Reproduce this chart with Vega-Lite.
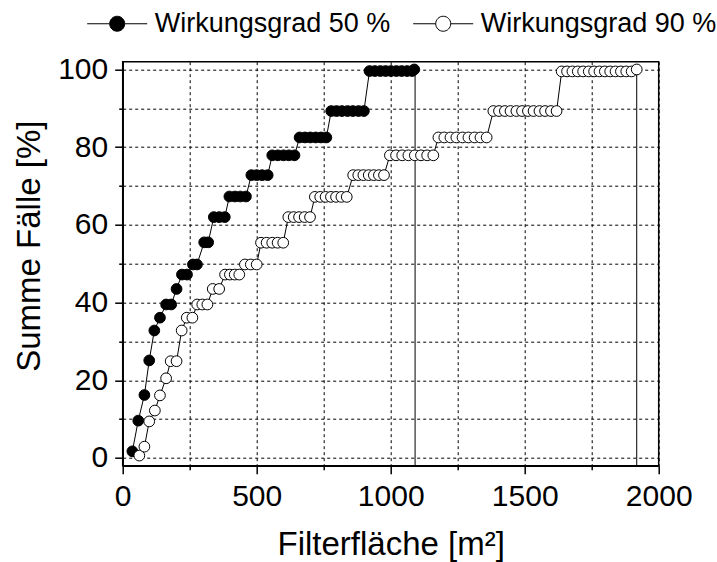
{
  "$schema": "https://vega.github.io/schema/vega-lite/v6.json",
  "width": 536,
  "height": 404,
  "autosize": "none",
  "padding": {"left": 122.7, "top": 61.7, "right": 58.3, "bottom": 96.3},
  "background": "white",
  "datasets": {
    "pts": [
      {"series": "Wirkungsgrad 50 %", "x": 36, "y": 1.7},
      {"series": "Wirkungsgrad 50 %", "x": 58, "y": 9.6},
      {"series": "Wirkungsgrad 50 %", "x": 81, "y": 16.2},
      {"series": "Wirkungsgrad 50 %", "x": 99, "y": 25.1},
      {"series": "Wirkungsgrad 50 %", "x": 118, "y": 32.8},
      {"series": "Wirkungsgrad 50 %", "x": 139, "y": 36.1},
      {"series": "Wirkungsgrad 50 %", "x": 162, "y": 39.5},
      {"series": "Wirkungsgrad 50 %", "x": 181, "y": 39.5},
      {"series": "Wirkungsgrad 50 %", "x": 201, "y": 43.5},
      {"series": "Wirkungsgrad 50 %", "x": 221, "y": 47.2},
      {"series": "Wirkungsgrad 50 %", "x": 240, "y": 47.2},
      {"series": "Wirkungsgrad 50 %", "x": 262, "y": 49.8},
      {"series": "Wirkungsgrad 50 %", "x": 277, "y": 49.8},
      {"series": "Wirkungsgrad 50 %", "x": 304, "y": 55.5},
      {"series": "Wirkungsgrad 50 %", "x": 319, "y": 55.5},
      {"series": "Wirkungsgrad 50 %", "x": 340, "y": 62.0},
      {"series": "Wirkungsgrad 50 %", "x": 360, "y": 62.0},
      {"series": "Wirkungsgrad 50 %", "x": 381, "y": 62.0},
      {"series": "Wirkungsgrad 50 %", "x": 398, "y": 67.3},
      {"series": "Wirkungsgrad 50 %", "x": 419, "y": 67.3},
      {"series": "Wirkungsgrad 50 %", "x": 439, "y": 67.3},
      {"series": "Wirkungsgrad 50 %", "x": 460, "y": 67.3},
      {"series": "Wirkungsgrad 50 %", "x": 480, "y": 72.8},
      {"series": "Wirkungsgrad 50 %", "x": 500, "y": 72.8},
      {"series": "Wirkungsgrad 50 %", "x": 520, "y": 72.8},
      {"series": "Wirkungsgrad 50 %", "x": 541, "y": 72.8},
      {"series": "Wirkungsgrad 50 %", "x": 558, "y": 77.9},
      {"series": "Wirkungsgrad 50 %", "x": 579, "y": 77.9},
      {"series": "Wirkungsgrad 50 %", "x": 600, "y": 77.9},
      {"series": "Wirkungsgrad 50 %", "x": 620, "y": 77.9},
      {"series": "Wirkungsgrad 50 %", "x": 641, "y": 77.9},
      {"series": "Wirkungsgrad 50 %", "x": 660, "y": 82.5},
      {"series": "Wirkungsgrad 50 %", "x": 680, "y": 82.5},
      {"series": "Wirkungsgrad 50 %", "x": 700, "y": 82.5},
      {"series": "Wirkungsgrad 50 %", "x": 720, "y": 82.5},
      {"series": "Wirkungsgrad 50 %", "x": 740, "y": 82.5},
      {"series": "Wirkungsgrad 50 %", "x": 760, "y": 82.5},
      {"series": "Wirkungsgrad 50 %", "x": 778, "y": 89.3},
      {"series": "Wirkungsgrad 50 %", "x": 798, "y": 89.3},
      {"series": "Wirkungsgrad 50 %", "x": 818, "y": 89.3},
      {"series": "Wirkungsgrad 50 %", "x": 839, "y": 89.3},
      {"series": "Wirkungsgrad 50 %", "x": 859, "y": 89.3},
      {"series": "Wirkungsgrad 50 %", "x": 880, "y": 89.3},
      {"series": "Wirkungsgrad 50 %", "x": 900, "y": 89.3},
      {"series": "Wirkungsgrad 50 %", "x": 921, "y": 99.6},
      {"series": "Wirkungsgrad 50 %", "x": 941, "y": 99.6},
      {"series": "Wirkungsgrad 50 %", "x": 961, "y": 99.6},
      {"series": "Wirkungsgrad 50 %", "x": 981, "y": 99.6},
      {"series": "Wirkungsgrad 50 %", "x": 1001, "y": 99.6},
      {"series": "Wirkungsgrad 50 %", "x": 1021, "y": 99.6},
      {"series": "Wirkungsgrad 50 %", "x": 1041, "y": 99.6},
      {"series": "Wirkungsgrad 50 %", "x": 1061, "y": 99.6},
      {"series": "Wirkungsgrad 50 %", "x": 1080, "y": 99.6},
      {"series": "Wirkungsgrad 50 %", "x": 1088, "y": 100},
      {"series": "Wirkungsgrad 90 %", "x": 62, "y": 0.6},
      {"series": "Wirkungsgrad 90 %", "x": 81, "y": 2.9},
      {"series": "Wirkungsgrad 90 %", "x": 99, "y": 9.4},
      {"series": "Wirkungsgrad 90 %", "x": 120, "y": 12.2},
      {"series": "Wirkungsgrad 90 %", "x": 139, "y": 16.1},
      {"series": "Wirkungsgrad 90 %", "x": 162, "y": 20.5},
      {"series": "Wirkungsgrad 90 %", "x": 179, "y": 24.9},
      {"series": "Wirkungsgrad 90 %", "x": 201, "y": 24.9},
      {"series": "Wirkungsgrad 90 %", "x": 220, "y": 32.8},
      {"series": "Wirkungsgrad 90 %", "x": 239, "y": 36.1},
      {"series": "Wirkungsgrad 90 %", "x": 260, "y": 36.1},
      {"series": "Wirkungsgrad 90 %", "x": 278, "y": 39.5},
      {"series": "Wirkungsgrad 90 %", "x": 297, "y": 39.5},
      {"series": "Wirkungsgrad 90 %", "x": 316, "y": 39.5},
      {"series": "Wirkungsgrad 90 %", "x": 336, "y": 43.5},
      {"series": "Wirkungsgrad 90 %", "x": 360, "y": 43.5},
      {"series": "Wirkungsgrad 90 %", "x": 382, "y": 47.2},
      {"series": "Wirkungsgrad 90 %", "x": 400, "y": 47.2},
      {"series": "Wirkungsgrad 90 %", "x": 418, "y": 47.2},
      {"series": "Wirkungsgrad 90 %", "x": 435, "y": 47.2},
      {"series": "Wirkungsgrad 90 %", "x": 456, "y": 49.8},
      {"series": "Wirkungsgrad 90 %", "x": 478, "y": 49.8},
      {"series": "Wirkungsgrad 90 %", "x": 500, "y": 49.8},
      {"series": "Wirkungsgrad 90 %", "x": 516, "y": 55.4},
      {"series": "Wirkungsgrad 90 %", "x": 537, "y": 55.4},
      {"series": "Wirkungsgrad 90 %", "x": 558, "y": 55.4},
      {"series": "Wirkungsgrad 90 %", "x": 578, "y": 55.4},
      {"series": "Wirkungsgrad 90 %", "x": 599, "y": 55.4},
      {"series": "Wirkungsgrad 90 %", "x": 618, "y": 62.0},
      {"series": "Wirkungsgrad 90 %", "x": 638, "y": 62.0},
      {"series": "Wirkungsgrad 90 %", "x": 658, "y": 62.0},
      {"series": "Wirkungsgrad 90 %", "x": 679, "y": 62.0},
      {"series": "Wirkungsgrad 90 %", "x": 699, "y": 62.0},
      {"series": "Wirkungsgrad 90 %", "x": 717, "y": 67.2},
      {"series": "Wirkungsgrad 90 %", "x": 737, "y": 67.2},
      {"series": "Wirkungsgrad 90 %", "x": 757, "y": 67.2},
      {"series": "Wirkungsgrad 90 %", "x": 777, "y": 67.2},
      {"series": "Wirkungsgrad 90 %", "x": 796, "y": 67.2},
      {"series": "Wirkungsgrad 90 %", "x": 816, "y": 67.2},
      {"series": "Wirkungsgrad 90 %", "x": 836, "y": 67.2},
      {"series": "Wirkungsgrad 90 %", "x": 860, "y": 72.8},
      {"series": "Wirkungsgrad 90 %", "x": 879, "y": 72.8},
      {"series": "Wirkungsgrad 90 %", "x": 898, "y": 72.8},
      {"series": "Wirkungsgrad 90 %", "x": 918, "y": 72.8},
      {"series": "Wirkungsgrad 90 %", "x": 937, "y": 72.8},
      {"series": "Wirkungsgrad 90 %", "x": 956, "y": 72.8},
      {"series": "Wirkungsgrad 90 %", "x": 975, "y": 72.8},
      {"series": "Wirkungsgrad 90 %", "x": 997, "y": 77.9},
      {"series": "Wirkungsgrad 90 %", "x": 1020, "y": 77.9},
      {"series": "Wirkungsgrad 90 %", "x": 1043, "y": 77.9},
      {"series": "Wirkungsgrad 90 %", "x": 1066, "y": 77.9},
      {"series": "Wirkungsgrad 90 %", "x": 1090, "y": 77.9},
      {"series": "Wirkungsgrad 90 %", "x": 1113, "y": 77.9},
      {"series": "Wirkungsgrad 90 %", "x": 1136, "y": 77.9},
      {"series": "Wirkungsgrad 90 %", "x": 1159, "y": 77.9},
      {"series": "Wirkungsgrad 90 %", "x": 1178, "y": 82.5},
      {"series": "Wirkungsgrad 90 %", "x": 1200, "y": 82.5},
      {"series": "Wirkungsgrad 90 %", "x": 1223, "y": 82.5},
      {"series": "Wirkungsgrad 90 %", "x": 1245, "y": 82.5},
      {"series": "Wirkungsgrad 90 %", "x": 1268, "y": 82.5},
      {"series": "Wirkungsgrad 90 %", "x": 1290, "y": 82.5},
      {"series": "Wirkungsgrad 90 %", "x": 1313, "y": 82.5},
      {"series": "Wirkungsgrad 90 %", "x": 1335, "y": 82.5},
      {"series": "Wirkungsgrad 90 %", "x": 1358, "y": 82.5},
      {"series": "Wirkungsgrad 90 %", "x": 1383, "y": 89.3},
      {"series": "Wirkungsgrad 90 %", "x": 1404, "y": 89.3},
      {"series": "Wirkungsgrad 90 %", "x": 1426, "y": 89.3},
      {"series": "Wirkungsgrad 90 %", "x": 1447, "y": 89.3},
      {"series": "Wirkungsgrad 90 %", "x": 1469, "y": 89.3},
      {"series": "Wirkungsgrad 90 %", "x": 1490, "y": 89.3},
      {"series": "Wirkungsgrad 90 %", "x": 1512, "y": 89.3},
      {"series": "Wirkungsgrad 90 %", "x": 1533, "y": 89.3},
      {"series": "Wirkungsgrad 90 %", "x": 1555, "y": 89.3},
      {"series": "Wirkungsgrad 90 %", "x": 1576, "y": 89.3},
      {"series": "Wirkungsgrad 90 %", "x": 1598, "y": 89.3},
      {"series": "Wirkungsgrad 90 %", "x": 1619, "y": 89.3},
      {"series": "Wirkungsgrad 90 %", "x": 1638, "y": 99.5},
      {"series": "Wirkungsgrad 90 %", "x": 1658, "y": 99.5},
      {"series": "Wirkungsgrad 90 %", "x": 1678, "y": 99.5},
      {"series": "Wirkungsgrad 90 %", "x": 1698, "y": 99.5},
      {"series": "Wirkungsgrad 90 %", "x": 1718, "y": 99.5},
      {"series": "Wirkungsgrad 90 %", "x": 1739, "y": 99.5},
      {"series": "Wirkungsgrad 90 %", "x": 1759, "y": 99.5},
      {"series": "Wirkungsgrad 90 %", "x": 1779, "y": 99.5},
      {"series": "Wirkungsgrad 90 %", "x": 1799, "y": 99.5},
      {"series": "Wirkungsgrad 90 %", "x": 1819, "y": 99.5},
      {"series": "Wirkungsgrad 90 %", "x": 1839, "y": 99.5},
      {"series": "Wirkungsgrad 90 %", "x": 1859, "y": 99.5},
      {"series": "Wirkungsgrad 90 %", "x": 1879, "y": 99.5},
      {"series": "Wirkungsgrad 90 %", "x": 1899, "y": 99.5},
      {"series": "Wirkungsgrad 90 %", "x": 1918, "y": 100}
    ],
    "drops": [
      {"series": "Wirkungsgrad 50 %", "x": 1091, "y": 100, "y2": -2},
      {"series": "Wirkungsgrad 90 %", "x": 1918, "y": 100, "y2": -2}
    ]
  },
  "encoding": {
    "x": {
      "field": "x",
      "type": "quantitative",
      "scale": {"domain": [0, 2000], "nice": false, "zero": false},
      "axis": {
        "title": "Filterfläche [m²]",
        "values": [0, 250, 500, 750, 1000, 1250, 1500, 1750, 2000],
        "format": "d",
        "labelExpr": "datum.value % 500 === 0 ? datum.label : ''",
        "grid": true,
        "gridColor": "black",
        "gridDash": [3, 3],
        "gridWidth": 1,
        "gridOpacity": 1,
        "domainColor": "black",
        "domainWidth": 1.5,
        "tickColor": "black",
        "tickWidth": 1.5,
        "tickSize": {"condition": {"test": "datum.value % 500 === 0", "value": 8}, "value": 4},
        "labelFont": "Liberation Sans",
        "labelFontSize": 30,
        "labelColor": "black",
        "labelBaseline": "alphabetic",
        "labelPadding": 32,
        "labelFlush": false,
        "labelOverlap": false,
        "titleFont": "Liberation Sans",
        "titleFontSize": 33,
        "titleFontWeight": "normal",
        "titleColor": "black",
        "titleBaseline": "alphabetic",
        "titleAlign": "center",
        "titleX": 268,
        "titleY": 88.6
      }
    },
    "y": {
      "field": "y",
      "type": "quantitative",
      "scale": {"domain": [-2, 102], "nice": false, "zero": false},
      "axis": {
        "title": "Summe Fälle [%]",
        "values": [0, 10, 20, 30, 40, 50, 60, 70, 80, 90, 100],
        "labelExpr": "datum.value % 20 === 0 ? datum.label : ''",
        "grid": true,
        "gridColor": "black",
        "gridDash": [3, 3],
        "gridWidth": 1,
        "gridOpacity": 1,
        "domainColor": "black",
        "domainWidth": 1.5,
        "tickColor": "black",
        "tickWidth": 1.5,
        "tickSize": {"condition": {"test": "datum.value % 20 === 0", "value": 8}, "value": 4},
        "labelFont": "Liberation Sans",
        "labelFontSize": 30,
        "labelColor": "black",
        "labelBaseline": "middle",
        "labelPadding": 7,
        "labelFlush": false,
        "labelOverlap": false,
        "titleFont": "Liberation Sans",
        "titleFontSize": 33,
        "titleFontWeight": "normal",
        "titleColor": "black",
        "titleAngle": -90,
        "titleBaseline": "alphabetic",
        "titleAlign": "center",
        "titleX": -83.4,
        "titleY": 184
      }
    }
  },
  "layer": [
    {
      "data": {"name": "drops"},
      "mark": {"type": "rule", "color": "black", "strokeWidth": 1},
      "encoding": {"y2": {"field": "y2"}}
    },
    {
      "data": {"name": "pts"},
      "mark": {"type": "line", "color": "black", "strokeWidth": 1},
      "encoding": {"detail": {"field": "series", "type": "nominal"}}
    },
    {
      "data": {"name": "pts"},
      "mark": {"type": "point", "shape": "circle", "filled": true, "size": 115, "stroke": "black", "strokeWidth": 1, "opacity": 1},
      "encoding": {
        "fill": {
          "field": "series",
          "type": "nominal",
          "scale": {"domain": ["Wirkungsgrad 50 %", "Wirkungsgrad 90 %"], "range": ["black", "white"]},
          "legend": {
            "orient": "none",
            "legendX": -36,
            "legendY": -68.7,
            "direction": "horizontal",
            "title": null,
            "symbolType": "M-1,0L-0.25,0A0.25,0.25,0,1,1,0.25,0L1,0M0.25,0A0.25,0.25,0,1,1,-0.25,0",
            "symbolSize": 3600,
            "symbolStrokeColor": "black",
            "symbolStrokeWidth": 1,
            "symbolOpacity": 1,
            "labelFont": "Liberation Sans",
            "labelFontSize": 27,
            "labelColor": "black",
            "labelOffset": 7,
            "labelLimit": 400,
            "columnPadding": 20,
            "padding": 0
          }
        }
      }
    }
  ],
  "config": {
    "view": {"stroke": "black", "strokeWidth": 1.5},
    "font": "Liberation Sans"
  }
}
